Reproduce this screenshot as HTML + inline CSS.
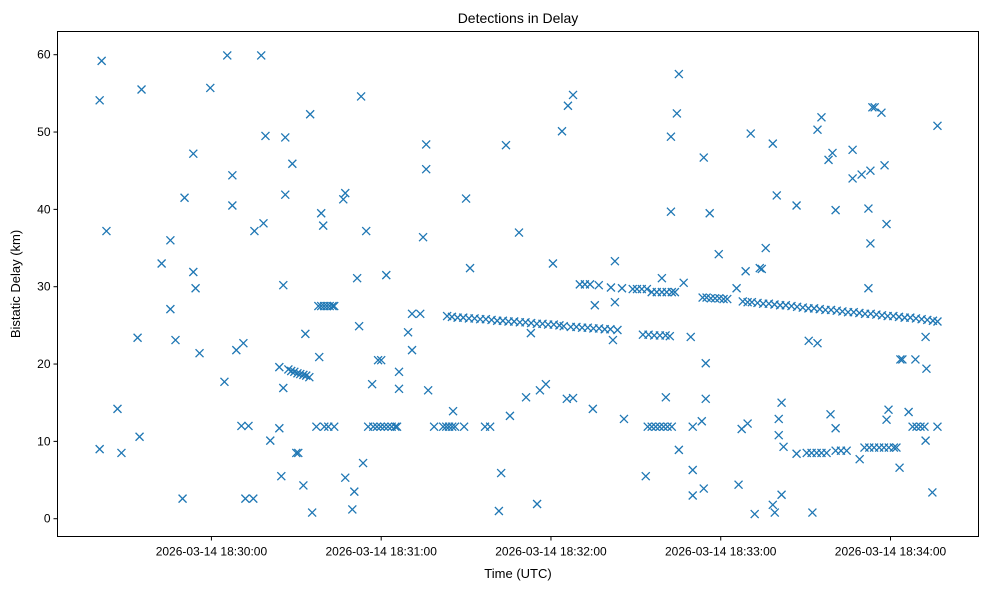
<!DOCTYPE html>
<html><head><meta charset="utf-8"><style>
body{margin:0;background:#fff;}
svg{display:block;font-family:"Liberation Sans","DejaVu Sans",sans-serif;}
</style></head><body>
<svg id="chart" width="989" height="590">
<rect x="0" y="0" width="989" height="590" fill="#fff"/>
<text x="518" y="23" text-anchor="middle" font-size="14" fill="#000">Detections in Delay</text>
<g id="marks"></g>
<g id="axes"></g>
<rect x="57.5" y="31.5" width="921" height="505" fill="none" stroke="#000" stroke-width="1"/>
<text x="518" y="578" text-anchor="middle" font-size="13">Time (UTC)</text>
<text x="20" y="284" text-anchor="middle" font-size="13" transform="rotate(-90 20 284)">Bistatic Delay (km)</text>
</svg>
<script>
// seconds after 18:30:00 UTC, and delays in km
const scatterTimes = [-38.8,5.6,17.6,-24.7,-0.4,-39.5,19.1,26.1,-6.4,28.6,7.4,26.1,-9.5,7.4,-37.1,18.4,15.2,-14.5,-17.6,-6.4,-5.6,25.4,-14.5,-26.1,-12.7,-4.2,8.8,11.3,24.0,4.6,25.4,-33.2,10.6,13.1,24.0,-25.4,20.8,-39.5,-31.8,30.0,24.7,-10.2,12.0,14.8,
27.2,28.2,29.3,30.4,31.4,32.5,33.5,34.6,
52.9,34.9,75.9,104.1,75.9,90.0,47.3,46.6,38.8,39.5,54.7,74.8,108.7,91.4,51.5,61.8,
37.8,38.8,39.8,40.8,41.8,42.8,43.4,
70.9,73.8,52.2,33.2,69.5,70.9,38.1,58.9,60.0,66.3,56.8,66.3,76.6,111.2,85.4,105.5,
37.1,39.9,41.3,43.4,55.4,57.2,58.5,59.8,61.1,62.4,63.7,65.0,65.6,78.7,81.9,83.0,84.0,85.1,86.1,89.3,96.7,98.5,
30.7,53.6,102.4,32.5,47.3,50.5,49.8,35.6,101.6];
const scatterDelays = [59.2,59.9,59.9,55.5,55.7,54.1,49.5,49.3,47.2,45.9,44.4,41.9,41.5,40.5,37.2,38.2,37.2,36.0,33.0,31.9,29.8,30.2,27.1,23.4,23.1,21.4,21.8,22.7,19.6,17.7,16.9,14.2,12.0,12.0,11.7,10.6,10.1,9.0,8.5,8.5,5.5,2.6,2.6,2.6,
19.3,19.1,19.0,18.8,18.7,18.6,18.5,18.3,
54.6,52.3,48.4,48.3,45.2,41.4,42.1,41.3,39.5,37.9,37.2,36.4,37.0,32.4,31.1,31.5,
27.5,27.5,27.5,27.5,27.5,27.5,27.5,
26.5,26.5,24.9,23.9,24.1,21.8,20.9,20.5,20.5,19.0,17.4,16.8,16.6,15.7,13.9,13.3,
11.9,11.9,11.9,11.9,11.9,11.9,11.9,11.9,11.9,11.9,11.9,11.9,11.9,11.9,11.9,11.9,11.9,11.9,11.9,11.9,11.9,11.9,
8.5,7.2,5.9,4.3,5.3,3.5,1.2,0.8,1.0];
const trackATimes = [83.3,85,87,89,91,93,95,97,99,101,103,105,107,109,111,113,115,117,119,121,123,124.5,127,129,131,133,135,137,139,141,143.5,152.5,154.5,156.5,158.5,160.5,162,169.4];
const trackADelays = [26.2,26.1,26.0,26.0,25.9,25.9,25.8,25.8,25.7,25.6,25.6,25.5,25.5,25.4,25.4,25.3,25.2,25.2,25.1,25.1,25.0,24.9,24.8,24.8,24.7,24.7,24.6,24.6,24.5,24.5,24.4,23.8,23.8,23.7,23.7,23.7,23.6,23.5];
const trackBTimes = [130.2,132.0,133.8,136.9,141.2,145.1,148.9,150.4,152.1,153.9,155.6,157.4,159.2,160.9,162.7,163.8];
const trackBDelays = [30.3,30.3,30.3,30.2,29.9,29.8,29.7,29.7,29.7,29.7,29.3,29.3,29.3,29.3,29.3,29.3];
const trackCTimes = [173.6,175,176.5,178,179.5,181,182.3,187.8,189.5,191,193,195,197,199,201,203,205,207,209,211,213,215,217,219,221,223,225,227,229,231,233,235,237,239,241,243,245,247,249,251,253,255,256.6];
const trackCDelays = [28.6,28.6,28.5,28.5,28.5,28.4,28.4,28.1,28.0,28.0,27.9,27.8,27.8,27.7,27.6,27.6,27.5,27.4,27.3,27.2,27.2,27.1,27.0,27.0,26.9,26.8,26.7,26.7,26.6,26.5,26.5,26.4,26.3,26.2,26.2,26.1,26.0,26.0,25.9,25.8,25.7,25.6,25.5];
const lateTimes = [165.2,127.8,126.0,164.5,123.9,162.4,190.6,174.0,162.4,176.1,120.7,142.6,179.3,188.8,193.8,159.2,166.9,185.6,135.5,142.6,112.9,141.9,174.7,116.1,118.2,125.6,127.8,134.8,145.8,160.6,174.7,173.3,189.5,187.4,170.1,
154.2,155.6,157,158.4,159.8,161.2,162.7,165.2,170.1,153.5,174.0,170.1,186.3,115.1,192.0,
233.6,234.4,236.8,215.6,214.2,256.6,198.4,226.6,219.5,218.1,237.9,232.9,229.8,226.6,199.8,206.8,220.6,232.2,238.6,232.9,195.9,194.5,232.2,211.1,214.2,243.5,244.2,248.8,252.4,252.7,
201.5,239.3,246.4,218.8,200.5,238.6,220.6,247.8,249.2,250.6,252.0,256.6,200.5,252.4,202.2,206.8,210.4,212.1,213.9,215.6,217.4,220.6,222.5,224.5,229.1,
230.8,232.5,234.2,236,237.7,239.4,241.2,242.1,243.2,254.8,201.5,198.4,199.1,212.4];
const lateDelays = [57.5,54.8,53.4,52.4,50.1,49.4,49.8,46.7,39.7,39.5,33.0,33.3,34.2,32.0,32.4,31.1,30.5,29.8,27.6,28.0,24.0,23.1,20.1,16.6,17.4,15.5,15.6,14.2,12.9,15.7,15.5,12.6,12.3,11.6,11.9,
11.9,11.9,11.9,11.9,11.9,11.9,11.9,8.9,6.3,5.5,3.9,3.0,4.4,1.9,0.6,
53.2,53.2,52.5,51.9,50.3,50.8,48.5,47.7,47.3,46.4,45.7,45.0,44.5,44.0,41.8,40.5,39.9,40.1,38.1,35.6,35.0,32.3,29.8,23.0,22.7,20.6,20.6,20.6,23.5,19.4,
15.0,14.1,13.8,13.5,12.9,12.8,11.7,11.9,11.9,11.9,11.9,11.9,10.8,10.1,9.3,8.4,8.5,8.5,8.5,8.5,8.5,8.8,8.8,8.8,7.7,
9.2,9.2,9.2,9.2,9.2,9.2,9.2,9.2,6.6,3.4,3.1,1.8,0.8,0.8];
const yTicks = [0,10,20,30,40,50,60];
const xTicks = [0,60,120,180,240];
const xTickLabels = ["2026-03-14 18:30:00","2026-03-14 18:31:00","2026-03-14 18:32:00","2026-03-14 18:33:00","2026-03-14 18:34:00"];

const L=57.5,T=31.5,W=921,H=505;
const xMin=-54.4,xMax=271.1,yMin=-2.3,yMax=63.0;
function xs(t){return L+(t-xMin)/(xMax-xMin)*W;}
function ys(d){return T+(yMax-d)/(yMax-yMin)*H;}
const NS="http://www.w3.org/2000/svg";
const marks=document.getElementById('marks');
const axes=document.getElementById('axes');
function plot(ts,ds,name){
  for(let i=0;i<ts.length;i++){
    const x=xs(ts[i]),y=ys(ds[i]),r=4;
    const p=document.createElementNS(NS,'path');
    p.setAttribute('d',`M${x-r},${y-r}L${x+r},${y+r}M${x-r},${y+r}L${x+r},${y-r}`);
    p.setAttribute('stroke','#1f77b4');p.setAttribute('stroke-width','1.3');p.setAttribute('fill','none');
    
    
    marks.appendChild(p);
  }
}
plot(scatterTimes,scatterDelays,'detection-point');
plot(trackATimes,trackADelays,'track-a-point');
plot(trackBTimes,trackBDelays,'track-b-point');
plot(trackCTimes,trackCDelays,'track-c-point');
plot(lateTimes,lateDelays,'detection-point');
yTicks.forEach(v=>{
  const y=ys(v);
  const l=document.createElementNS(NS,'line');
  l.setAttribute('x1',L-4);l.setAttribute('x2',L);l.setAttribute('y1',y);l.setAttribute('y2',y);l.setAttribute('stroke','#000');
  
  
  axes.appendChild(l);
  const t=document.createElementNS(NS,'text');
  t.setAttribute('x',L-7);t.setAttribute('y',y+4);t.setAttribute('text-anchor','end');t.setAttribute('font-size','12');
  t.textContent=v;
  
  
  axes.appendChild(t);
});
xTicks.forEach((v,i)=>{
  const x=xs(v);
  const l=document.createElementNS(NS,'line');
  l.setAttribute('x1',x);l.setAttribute('x2',x);l.setAttribute('y1',T+H);l.setAttribute('y2',T+H+4);l.setAttribute('stroke','#000');
  
  
  axes.appendChild(l);
  const t=document.createElementNS(NS,'text');
  t.setAttribute('x',x);t.setAttribute('y',T+H+19);t.setAttribute('text-anchor','middle');t.setAttribute('font-size','12');
  t.textContent=xTickLabels[i];
  
  
  axes.appendChild(t);
});
</script>
</body></html>
